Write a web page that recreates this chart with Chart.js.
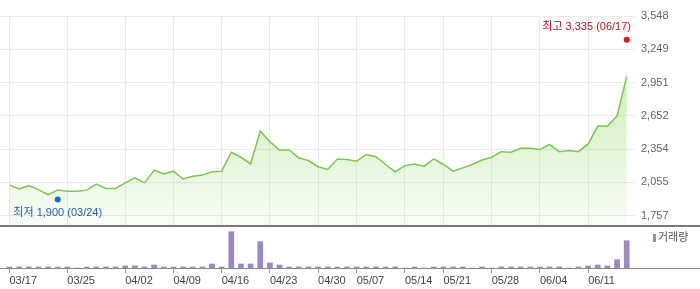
<!DOCTYPE html>
<html>
<head>
<meta charset="utf-8">
<script src="https://cdn.jsdelivr.net/npm/chart.js@4/dist/chart.umd.min.js"></script>
<style>
  html, body { margin: 0; padding: 0; background: #fff; }
  #wrap { position: relative; width: 700px; height: 289px; }
  #price { position: absolute; left: 0; top: 0; width: 700px; height: 225px; }
  #volume { position: absolute; left: 0; top: 225px; width: 700px; height: 64px; }
</style>
</head>
<body>
<div id="wrap">
  <canvas id="price" width="700" height="225"></canvas>
  <canvas id="volume" width="700" height="64"></canvas>
</div>
<script>
// trading days, 2021-03-17 .. 2021-06-17
const dates = [
  '03/17', '03/18', '03/19', '03/22', '03/23', '03/24', '03/25', '03/26', '03/29', '03/30', '03/31',
  '04/01', '04/02', '04/05', '04/06', '04/07', '04/08', '04/09', '04/12', '04/13', '04/14', '04/15',
  '04/16', '04/19', '04/20', '04/21', '04/22', '04/23', '04/26', '04/27', '04/28', '04/29', '04/30',
  '05/03', '05/04', '05/06', '05/07', '05/10', '05/11', '05/12', '05/13', '05/14', '05/17', '05/18',
  '05/20', '05/21', '05/24', '05/25', '05/26', '05/27', '05/28', '05/31',
  '06/01', '06/02', '06/03', '06/04', '06/07', '06/08', '06/09', '06/10', '06/11', '06/14', '06/15',
  '06/16', '06/17'
]

// closing price
const closes = [
  2030, 1995, 2025, 1990, 1945, 1985, 1975, 1975, 1985, 2040, 2000,
  2000, 2050, 2095, 2050, 2165, 2130, 2155, 2085, 2110, 2120, 2150,
  2155, 2325, 2280, 2220, 2515, 2420, 2345, 2345, 2275, 2250, 2195,
  2170, 2265, 2260, 2245, 2305, 2285, 2215, 2150, 2205, 2220, 2200,
  2265, 2215, 2155, 2185, 2215, 2255, 2280, 2330,
  2325, 2360, 2360, 2350, 2395, 2330, 2340, 2330, 2400, 2560, 2560,
  2650, 3005
]

// volume (shares)
const volumes = [
  10000, 10000, 10000, 10000, 10000, 10000, 10000, 0, 10000, 10000, 10000,
  10000, 20000, 20000, 10000, 30000, 10000, 10000, 10000, 10000, 10000, 40000,
  10000, 363000, 40000, 40000, 263000, 50000, 30000, 10000, 10000, 10000, 10000,
  10000, 10000, 10000, 10000, 10000, 10000, 10000, 10000, 0, 10000, 0,
  10000, 10000, 10000, 10000, 0, 10000, 0, 10000,
  10000, 10000, 10000, 10000, 10000, 10000, 0, 10000, 20000, 30000, 20000,
  83000, 273000
]

const xTickIdx = [0, 6, 12, 17, 22, 27, 32, 36, 41, 45, 50, 55, 60]
const xTickLabels = xTickIdx.map(i => dates[i])

const yTicks = [1757, 2055.5, 2354, 2652.5, 2951, 3249.5, 3548]
const yTickLabels = ['1,757', '2,055', '2,354', '2,652', '2,951', '3,249', '3,548']

const highIdx = 64
const highValue = 3335
const lowIdx = 5
const lowValue = 1900

const FONT = '"Liberation Sans", "Noto Sans CJK KR", sans-serif'
Chart.defaults.font.family = FONT
Chart.defaults.font.size = 11

const fmt = n => n.toLocaleString('en-US')

// shared x range so both panels line up
const X_MIN = -0.985
const X_MAX = 64.86

// fixed axis sizes, no extra room for edge labels
const fitTo = (w, h) => s => {
  if (w !== null) s.width = w
  if (h !== null) s.height = h
  s.paddingTop = 0
  s.paddingBottom = 0
  s.paddingLeft = 0
  s.paddingRight = 0
}

// high / low labels next to the dots
const markerLabels = {
  id: 'markerLabels',
  afterDatasetsDraw(chart) {
    const c = chart.ctx
    const area = chart.chartArea
    const items = [
      { ds: 1, text: `최고 ${fmt(highValue)} (${dates[highIdx]})`, color: '#c8161d', dy: -13 },
      { ds: 2, text: `최저 ${fmt(lowValue)} (${dates[lowIdx]})`, color: '#2a5eab', dy: 13 }
    ]
    c.save()
    c.font = `11px ${FONT}`
    c.textBaseline = 'middle'
    c.textAlign = 'left'
    items.forEach(it => {
      const pt = chart.getDatasetMeta(it.ds).data[0]
      const w = c.measureText(it.text).width
      let left = pt.x - w / 2
      left = Math.min(left, area.right - 4 - w)
      left = Math.max(left, area.left + 10)
      c.fillStyle = it.color
      c.fillText(it.text, left, pt.y + it.dy)
    })
    c.restore()
  }
}

new Chart(document.getElementById('price'), {
  type: 'line',
  data: {
    datasets: [
      {
        data: closes.map((v, i) => ({ x: i, y: v })),
        borderColor: '#7bc851',
        borderWidth: 1.5,
        pointRadius: 0,
        tension: 0,
        fill: 'start',
        backgroundColor: (ctx) => {
          const { chart } = ctx
          const area = chart.chartArea
          if (!area) return 'rgba(0,0,0,0)'
          const g = chart.ctx.createLinearGradient(0, area.top, 0, area.bottom)
          g.addColorStop(0, 'rgba(110, 205, 60, 0.45)')
          g.addColorStop(1, 'rgba(110, 205, 60, 0.05)')
          return g
        }
      },
      // dots drawn above the area fill
      {
        data: [{ x: highIdx, y: highValue }],
        order: -1,
        showLine: false,
        pointRadius: 3,
        pointBorderWidth: 0,
        pointBackgroundColor: '#ee1010'
      },
      {
        data: [{ x: lowIdx, y: lowValue }],
        order: -1,
        showLine: false,
        pointRadius: 3,
        pointBorderWidth: 0,
        pointBackgroundColor: '#1a68d6'
      }
    ]
  },
  options: {
    responsive: false,
    animation: false,
    layout: { padding: { top: 16, left: 0, right: 0, bottom: 0 }, autoPadding: false },
    plugins: { legend: { display: false }, tooltip: { enabled: false } },
    scales: {
      x: {
        type: 'linear',
        min: X_MIN,
        max: X_MAX,
        afterBuildTicks: s => { s.ticks = xTickIdx.map(v => ({ value: v })) },
        afterFit: fitTo(null, 0),
        grid: { color: '#ebebeb', drawTicks: false },
        border: { display: false },
        ticks: { display: false }
      },
      y: {
        position: 'right',
        min: 1672,
        max: 3548,
        afterBuildTicks: s => { s.ticks = yTicks.map(v => ({ value: v })) },
        afterFit: fitTo(65, null),
        grid: { color: '#ebebeb', drawTicks: false },
        border: { display: false },
        ticks: { padding: 6, color: '#666', callback: (v, i) => yTickLabels[i] }
      }
    }
  },
  plugins: [markerLabels]
})

// separator lines, legend for the volume panel
const volumeDecor = {
  id: 'volumeDecor',
  afterDraw(chart) {
    const c = chart.ctx
    const area = chart.chartArea
    c.save()
    c.strokeStyle = '#7a7a7a'
    c.lineWidth = 2
    c.beginPath()
    c.moveTo(0, 1)
    c.lineTo(chart.width, 1)
    c.stroke()
    c.strokeStyle = '#8a8a8a'
    c.lineWidth = 1
    c.beginPath()
    c.moveTo(0, area.bottom + 0.5)
    c.lineTo(chart.width, area.bottom + 0.5)
    c.stroke()
    // legend
    c.fillStyle = '#9a88c5'
    c.fillRect(653, 9, 3, 8)
    c.fillStyle = '#555'
    c.font = `11px ${FONT}`
    c.textBaseline = 'middle'
    c.fillText('거래량', 658, 13)
    c.restore()
  }
}

new Chart(document.getElementById('volume'), {
  type: 'bar',
  data: {
    datasets: [{
      data: volumes.map((v, i) => ({ x: i, y: v })),
      backgroundColor: '#9a88c5',
      barThickness: 5
    }]
  },
  options: {
    responsive: false,
    animation: false,
    layout: { padding: { top: 2, left: 0, right: 0, bottom: 0 }, autoPadding: false },
    plugins: { legend: { display: false }, tooltip: { enabled: false } },
    scales: {
      x: {
        type: 'linear',
        min: X_MIN,
        max: X_MAX,
        offset: false,
        afterBuildTicks: s => { s.ticks = xTickIdx.map(v => ({ value: v })) },
        afterFit: fitTo(null, 21),
        grid: { offset: false, drawOnChartArea: false, drawTicks: true, tickLength: 5, tickColor: '#999' },
        border: { display: false },
        ticks: {
          align: 'start',
          padding: 1,
          color: '#444',
          autoSkip: false,
          maxRotation: 0,
          callback: (v, i) => xTickLabels[i]
        }
      },
      y: {
        position: 'right',
        min: 0,
        max: 410000,
        afterFit: fitTo(65, null),
        grid: { display: false },
        border: { display: false },
        ticks: { display: false }
      }
    }
  },
  plugins: [volumeDecor]
})
</script>
</body>
</html>
